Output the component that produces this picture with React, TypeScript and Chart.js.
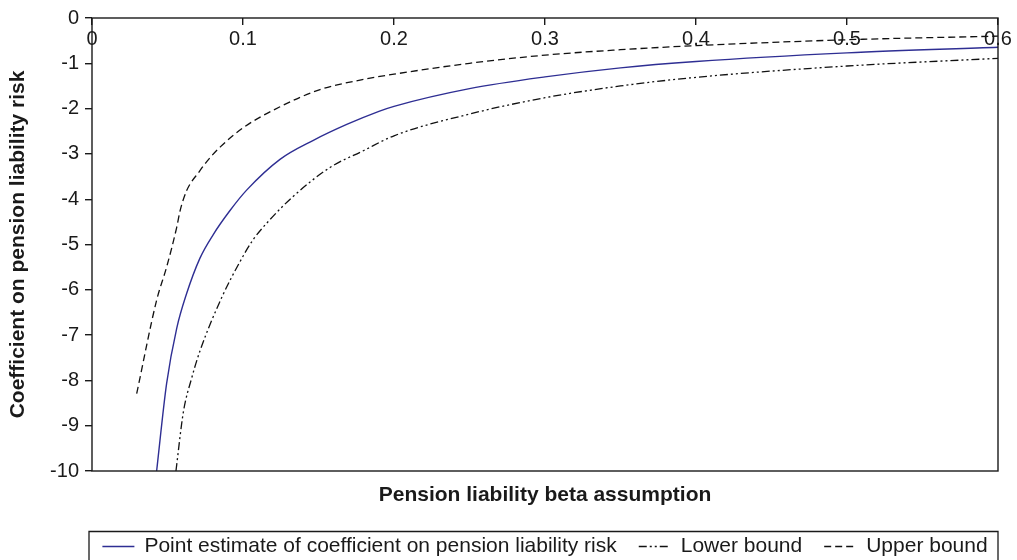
import React, { useEffect, useRef } from "react";
import { Chart, registerables } from "chart.js";

Chart.register(...registerables);

// ---- Data ----
const pointX = [0.0428, 0.0494, 0.0561, 0.0625, 0.0715, 0.0803, 0.0914, 0.1024, 0.1245, 0.1466, 0.1687, 0.19, 0.2, 0.25, 0.3, 0.35, 0.4, 0.5, 0.6];
const pointY = [-10, -8.07, -6.85, -6.1, -5.3, -4.78, -4.25, -3.8, -3.12, -2.7, -2.35, -2.06, -1.95, -1.56, -1.3, -1.1, -0.96, -0.77, -0.645];

const lowerX = [0.0556, 0.0605, 0.066, 0.0715, 0.0862, 0.098, 0.1066, 0.1179, 0.1325, 0.1576, 0.1797, 0.2, 0.25, 0.3, 0.35, 0.4, 0.5, 0.6];
const lowerY = [-10, -8.7, -7.95, -7.35, -6.15, -5.38, -4.9, -4.45, -3.96, -3.3, -2.93, -2.6, -2.12, -1.76, -1.5, -1.31, -1.06, -0.89];

const upperX = [0.0296, 0.0428, 0.0494, 0.0561, 0.0583, 0.0627, 0.0715, 0.076, 0.0848, 0.1002, 0.1245, 0.151, 0.1775, 0.2, 0.25, 0.3, 0.35, 0.4, 0.5, 0.6];
const upperY = [-8.29, -6.23, -5.5, -4.62, -4.26, -3.81, -3.37, -3.17, -2.85, -2.42, -1.96, -1.58, -1.37, -1.24, -1.0, -0.82, -0.7, -0.61, -0.48, -0.4];

const seriesLabels = [
  "Point estimate of coefficient on pension liability risk",
  "Lower bound",
  "Upper bound",
];

const xAxisTitle = "Pension liability beta assumption";
const yAxisTitle = "Coefficient on pension liability risk";

const xMin = 0;
const xMax = 0.6;
const xStep = 0.1;
const yMin = -10;
const yMax = 0;
const yStep = 1;

const FONT = '"Liberation Sans", Arial, Helvetica, sans-serif';
const INK = "#1a1a1a";
const LEGEND_H = 29;

const toXY = (xs: number[], ys: number[]) => xs.map((x, i) => ({ x, y: ys[i] }));

const framePlugin = {
  id: "frame",
  afterDatasetsDraw(chart: any) {
    const { ctx, chartArea } = chart;
    ctx.save();
    ctx.strokeStyle = INK;
    ctx.lineWidth = 1.4;
    ctx.setLineDash([]);
    ctx.strokeRect(chartArea.left, chartArea.top, chartArea.right - chartArea.left, chartArea.bottom - chartArea.top);
    ctx.restore();
  },
};

const boxLegendPlugin = {
  id: "boxLegend",
  afterDraw(chart: any) {
    const { ctx, chartArea } = chart;
    ctx.save();
    ctx.font = `21px ${FONT}`;
    const sample = 32;
    const gap = 10;
    const between = 22;
    const items = chart.data.datasets.map((ds: any) => ({
      label: ds.label,
      color: ds.borderColor,
      dash: ds.borderDash || [],
      lw: ds.borderWidth,
      width: ctx.measureText(ds.label).width,
    }));
    const total =
      items.reduce((s: number, it: any) => s + sample + gap + it.width, 0) + between * (items.length - 1);
    let x = (chartArea.left + chartArea.right) / 2 - total / 2;
    const top = chart.height - LEGEND_H + 0.5;
    const cy = top + 15;
    const left = chartArea.left - 3;
    const right = chartArea.right;
    ctx.strokeStyle = INK;
    ctx.lineWidth = 1.3;
    ctx.setLineDash([]);
    ctx.beginPath();
    ctx.moveTo(left, chart.height + 2);
    ctx.lineTo(left, top);
    ctx.lineTo(right, top);
    ctx.lineTo(right, chart.height + 2);
    ctx.stroke();
    items.forEach((it: any) => {
      ctx.beginPath();
      ctx.setLineDash(it.dash);
      ctx.strokeStyle = it.color;
      ctx.lineWidth = it.lw;
      ctx.moveTo(x, cy);
      ctx.lineTo(x + sample, cy);
      ctx.stroke();
      ctx.setLineDash([]);
      ctx.fillStyle = INK;
      ctx.textBaseline = "middle";
      ctx.textAlign = "left";
      ctx.fillText(it.label, x + sample + gap, cy);
      x += sample + gap + it.width + between;
    });
    ctx.restore();
  },
};

export default function App() {
  const canvasRef = useRef<HTMLCanvasElement | null>(null);

  useEffect(() => {
    if (!canvasRef.current) return;
    const chart = new Chart(canvasRef.current, {
      type: "scatter",
      data: {
        datasets: [
          {
            label: seriesLabels[0],
            data: toXY(pointX, pointY),
            showLine: true,
            borderColor: "#2e2e93",
            borderWidth: 1.4,
            pointRadius: 0,
            cubicInterpolationMode: "monotone",
          },
          {
            label: seriesLabels[1],
            data: toXY(lowerX, lowerY),
            showLine: true,
            borderColor: "#111111",
            borderWidth: 1.3,
            borderDash: [8, 3, 2, 3, 2, 3],
            pointRadius: 0,
            cubicInterpolationMode: "monotone",
          },
          {
            label: seriesLabels[2],
            data: toXY(upperX, upperY),
            showLine: true,
            borderColor: "#111111",
            borderWidth: 1.3,
            borderDash: [7, 4],
            pointRadius: 0,
            cubicInterpolationMode: "monotone",
          },
        ],
      },
      options: {
        animation: false,
        responsive: true,
        maintainAspectRatio: false,
        layout: { padding: { top: 16, right: 19, bottom: LEGEND_H, left: 0 } },
        plugins: {
          legend: { display: false },
          tooltip: { enabled: false },
        },
        scales: {
          x: {
            type: "linear",
            position: { y: 0 } as any,
            min: xMin,
            max: xMax,
            ticks: {
              stepSize: xStep,
              autoSkip: false,
              padding: 2.5,
              color: INK,
              font: { family: FONT, size: 20 },
              callback: (v: any) => String(Math.round(Number(v) * 10) / 10),
            },
            grid: {
              drawOnChartArea: false,
              drawTicks: true,
              tickLength: 7,
              color: INK,
              lineWidth: 1.4,
            },
            border: { display: false },
          },
          x2: {
            type: "linear",
            position: "bottom",
            min: xMin,
            max: xMax,
            ticks: { display: false },
            grid: { display: false, drawTicks: false },
            border: { display: false },
            title: {
              display: true,
              text: xAxisTitle,
              color: INK,
              font: { family: FONT, size: 21, weight: "bold" },
              padding: { top: 11.9, bottom: 22.9 },
            },
          },
          y: {
            type: "linear",
            position: "left",
            min: yMin,
            max: yMax,
            ticks: {
              stepSize: yStep,
              padding: 6,
              color: INK,
              font: { family: FONT, size: 20 },
            },
            grid: {
              drawOnChartArea: false,
              drawTicks: true,
              tickLength: 7,
              color: INK,
              lineWidth: 1.4,
            },
            border: { display: false },
            title: {
              display: true,
              text: yAxisTitle,
              color: INK,
              font: { family: FONT, size: 21, weight: "bold" },
              padding: { top: 5.4, bottom: 0 },
            },
            afterFit: (scale: any) => {
              scale.width = 92;
            },
          },
        },
      },
      plugins: [framePlugin, boxLegendPlugin],
    });
    return () => chart.destroy();
  }, []);

  return (
    <div style={{ position: "absolute", left: 0, top: 0, width: 1017, height: 560, background: "#fff" }}>
      <canvas ref={canvasRef} />
    </div>
  );
}
